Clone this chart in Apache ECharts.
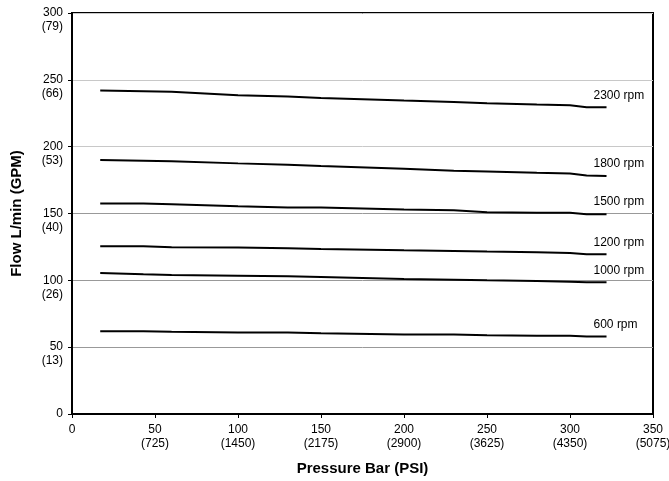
<!DOCTYPE html>
<html><head><meta charset="utf-8">
<script src="https://cdn.jsdelivr.net/npm/echarts@6/dist/echarts.min.js"></script>
<style>html,body{margin:0;padding:0;background:#fff}#c{width:669px;height:481px}</style>
</head><body><div id="c"></div>
<script>
const pressure = [17, 43, 60, 100, 130, 150, 200, 230, 250, 280, 300, 310, 322];
const rpmLabels = ['2300 rpm', '1800 rpm', '1500 rpm', '1200 rpm', '1000 rpm', '600 rpm'];
const flow2300 = [242, 241.5, 241, 238.5, 237.5, 236.5, 234.5, 233.5, 232.5, 231.5, 231, 229.5, 229.5];
const flow1800 = [190, 189.5, 189, 187.5, 186.5, 185.5, 183.5, 182, 181.5, 180.5, 180, 178.5, 178];
const flow1500 = [157.5, 157.5, 157, 155.5, 154.5, 154.5, 153, 152.5, 151, 150.5, 150.5, 149.5, 149.5];
const flow1200 = [125.5, 125.5, 124.8, 124.5, 124, 123.5, 122.5, 122, 121.5, 121, 120.5, 119.5, 119.5];
const flow1000 = [105.5, 104.5, 104, 103.5, 103, 102.5, 101, 100.5, 100, 99.5, 99, 98.5, 98.5];
const flow600 = [62, 62, 61.5, 61, 61, 60.5, 59.5, 59.5, 59, 58.5, 58.5, 58, 58];
const yTicks = [0, 50, 100, 150, 200, 250, 300];
const yTickGpm = ['', '13', '26', '40', '53', '66', '79'];
const xTicks = [0, 50, 100, 150, 200, 250, 300, 350];
const xTickPsi = ['', '725', '1450', '2175', '2900', '3625', '4350', '5075'];

const allFlows = [flow2300, flow1800, flow1500, flow1200, flow1000, flow600];
const font = 'Liberation Sans, Arial, sans-serif';

const series = allFlows.map((arr, i) => ({
  type: 'line',
  data: arr.map((v, j) => [pressure[j], v]),
  symbol: 'none',
  lineStyle: { color: '#000', width: 2 },
  endLabel: { show: true, formatter: rpmLabels[i], distance: 0, offset: [-13, -12],
    color: '#000', fontSize: 12, fontFamily: font },
  silent: true,
  z: 3
}));

const chart = echarts.init(document.getElementById('c'), null, { renderer: 'canvas' });
chart.setOption({
  animation: false,
  backgroundColor: '#fff',
  grid: { left: 72, right: 16, top: 13, bottom: 67, outerBoundsMode: 'none', containLabel: false,
    show: true, borderColor: '#000', borderWidth: 2, backgroundColor: 'transparent' },
  xAxis: {
    type: 'value', min: 0, max: 350, interval: 50,
    name: 'Pressure Bar (PSI)', nameLocation: 'middle', nameGap: 47,
    nameTextStyle: { fontSize: 15, fontWeight: 'bold', color: '#000', fontFamily: font },
    axisLine: { show: true, lineStyle: { color: '#000', width: 2 } },
    axisTick: { show: true, length: 4, lineStyle: { color: '#000' } },
    splitLine: { show: false },
    axisLabel: {
      color: '#000', fontSize: 12, fontFamily: font, lineHeight: 14, margin: 9,
      formatter: v => { const i = xTicks.indexOf(v); return xTickPsi[i] ? v + '\n(' + xTickPsi[i] + ')' : String(v); }
    }
  },
  yAxis: {
    type: 'value', min: 0, max: 300, interval: 50,
    name: 'Flow L/min (GPM)', nameLocation: 'middle', nameGap: 48, nameRotate: 90,
    nameTextStyle: { fontSize: 15, fontWeight: 'bold', color: '#000', fontFamily: font },
    axisLine: { show: true, lineStyle: { color: '#000', width: 2 } },
    axisTick: { show: true, length: 4, lineStyle: { color: '#000' } },
    splitLine: { show: true, lineStyle: { color: ['#999', '#999', '#999', '#999', '#c8c8c8', '#c8c8c8', '#c8c8c8'], width: 1 } },
    axisLabel: {
      color: '#000', fontSize: 12, fontFamily: font, lineHeight: 14, margin: 9,
      formatter: v => { const i = yTicks.indexOf(v); return yTickGpm[i] ? '\n' + v + '\n(' + yTickGpm[i] + ')' : String(v); }
    }
  },
  series
});
</script>
</body></html>
